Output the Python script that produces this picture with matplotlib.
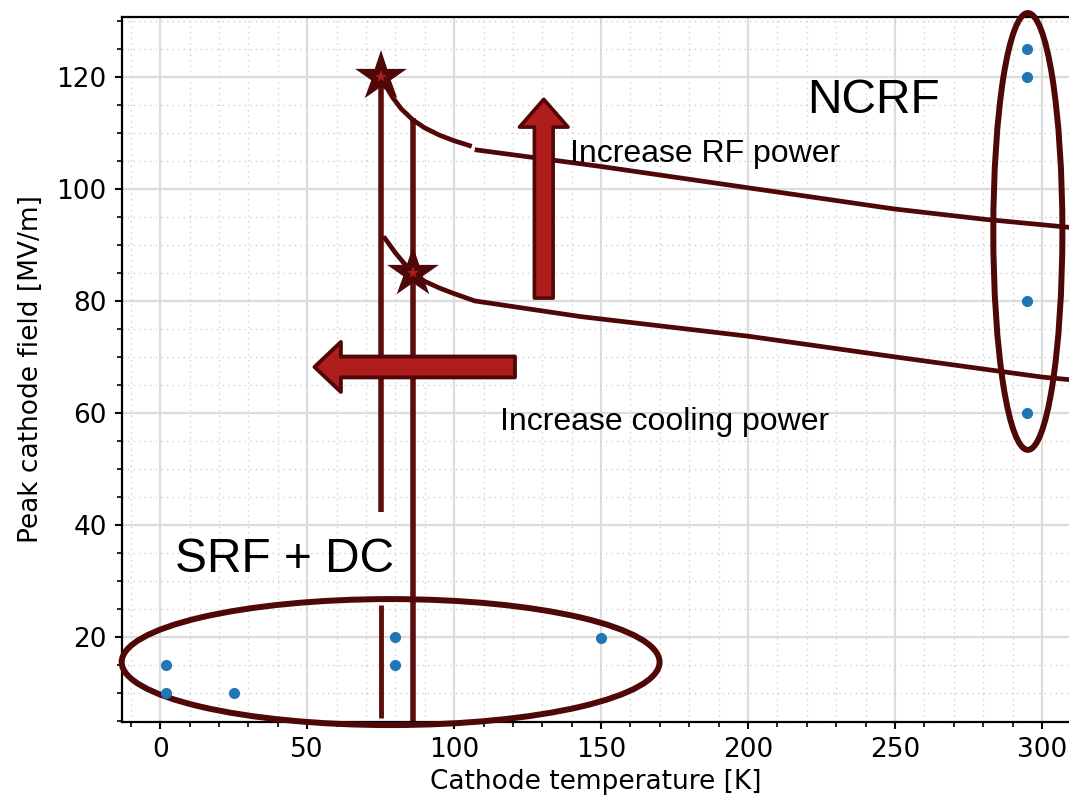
import matplotlib
matplotlib.use("Agg")
import matplotlib.pyplot as plt
from matplotlib.markers import MarkerStyle
from matplotlib.patches import Ellipse, FancyArrowPatch
from matplotlib.ticker import MultipleLocator

# measured cathodes (temperature K, peak field MV/m)
temp_pts = [2, 2, 25, 80, 80, 150, 295, 295, 295, 295]
field_pts = [15, 10, 10, 20, 15, 19.8, 125, 120, 80, 60]

# operating curves
upper_curve_x = [75, 77, 79, 82, 86, 90, 95, 100, 106]
upper_curve_y = [120, 118.2, 116.4, 114.3, 112.3, 110.9, 109.6, 108.6, 107.6]
upper_line_x = [107, 150, 200, 250, 280, 310]
upper_line_y = [107, 104.0, 100.2, 96.4, 94.6, 93.1]
lower_x = [76, 80, 83, 86, 90, 95, 100, 107, 143, 200, 250, 300, 310]
lower_y = [91.5, 88.6, 86.7, 85.0, 83.5, 82.3, 81.3, 80.0, 77.2, 73.7, 70.0, 66.4, 65.9]

# operating points (stars)
star_x = [75, 86]
star_y = [120, 85]

dark = "#4f0707"
red = "#b01d1d"

fig = plt.figure(figsize=(10.69, 8.05), dpi=100)
ax = fig.add_axes([0.1141, 0.1031, 0.8859, 0.8758])

ax.set_xlim(-13, 309.2)
ax.set_ylim(4.8, 130.7)

# grid
ax.xaxis.set_major_locator(MultipleLocator(50))
ax.xaxis.set_minor_locator(MultipleLocator(10))
ax.yaxis.set_major_locator(MultipleLocator(20))
ax.yaxis.set_minor_locator(MultipleLocator(5))
ax.grid(which="major", color="#dcdcdc", lw=1.6)
ax.grid(which="minor", color="#cfcfcf", lw=1.0, ls=(0, (1, 3)))
ax.set_axisbelow(True)

# vertical cooling lines
ax.plot([75, 75], [120, 42.3], color="#5a0e0e", lw=4, solid_capstyle="butt")
ax.plot([75, 75], [25.7, 5.5], color="#5a0e0e", lw=3.5, solid_capstyle="butt")
ax.plot([86, 86], [112.7, 3], color="#5a0e0e", lw=4, solid_capstyle="butt")

# curves
ax.plot(upper_curve_x, upper_curve_y, color=dark, lw=3.4, solid_capstyle="butt")
ax.plot(upper_line_x, upper_line_y, color=dark, lw=3.4, solid_capstyle="butt")
ax.plot(lower_x, lower_y, color=dark, lw=3.4, solid_capstyle="butt")

star = MarkerStyle("*", joinstyle="miter")
ax.plot(star_x, star_y, ls="none", marker=star, ms=24, mfc=red, mec=dark, mew=4.5, zorder=5)

# ellipses around regions
ax.add_patch(Ellipse((78.4, 15.5), 183, 22.5, fill=False, ec=dark, lw=4.3, clip_on=False, zorder=4))
ax.add_patch(Ellipse((295.2, 92.4), 23.5, 78, fill=False, ec=dark, lw=4.3, clip_on=False, zorder=4))

ax.plot(temp_pts, field_pts, ls="none", marker="o", ms=7, color="#1f77b4", zorder=6)

# arrows
up = FancyArrowPatch((130.5, 80.5), (130.5, 116.0), shrinkA=0, shrinkB=0,
                     arrowstyle="simple,head_length=20,head_width=35,tail_width=13.5",
                     mutation_scale=1, fc=red, ec=dark, lw=2.6, zorder=5)
ax.add_patch(up)
left = FancyArrowPatch((120.7, 68.2), (52.5, 68.2), shrinkA=0, shrinkB=0,
                       arrowstyle="simple,head_length=19,head_width=36,tail_width=15",
                       mutation_scale=1, fc=red, ec=dark, lw=2.8, zorder=5)
ax.add_patch(left)

sans = ["Liberation Sans", "Arial", "DejaVu Sans"]
ax.text(220, 113.6, "NCRF", fontsize=34.5, family=sans)
ax.text(5, 31.6, "SRF + DC", fontsize=34.5, family=sans)
ax.text(139.5, 104.8, "Increase RF power", fontsize=23, family=sans)
ax.text(115.6, 57.0, "Increase cooling power", fontsize=23, family=sans)

ax.set_xlabel("Cathode temperature [K]", fontsize=19, labelpad=4)
ax.set_ylabel("Peak cathode field [MV/m]", fontsize=19, labelpad=9)
ax.tick_params(which="major", length=5, width=1.5, labelsize=19, pad=6)
ax.tick_params(which="minor", length=3.5, width=1.2)

for s in ["left", "bottom", "top"]:
    ax.spines[s].set_linewidth(1.6)
ax.spines["right"].set_visible(False)

fig.savefig("out.png", dpi=100)
